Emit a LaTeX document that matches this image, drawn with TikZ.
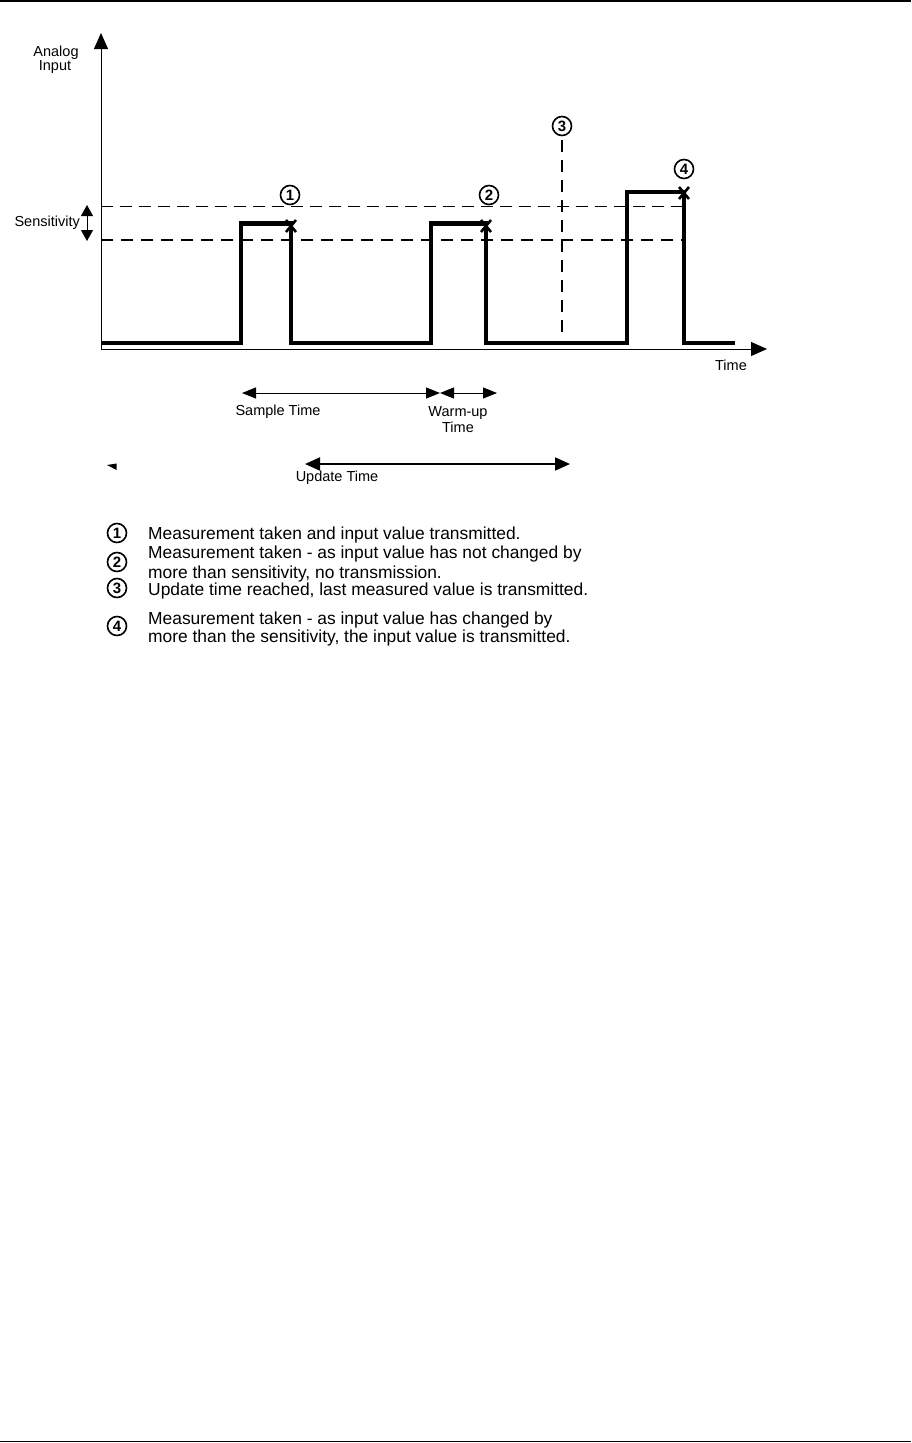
\documentclass[tikz,border=0pt]{standalone}
\usepackage{fontspec}
\setmainfont{Liberation Sans}
\usetikzlibrary{arrows.meta}
\begin{document}
\begin{tikzpicture}[x=1pt,y=-1pt,
  lbl/.style={inner sep=0pt,font=\fontsize{14.5}{12}\selectfont},
  leg/.style={inner sep=0pt,anchor=base west,font=\fontsize{17.4}{18.5}\selectfont},
  num/.style={circle,draw,line width=1.6pt,minimum size=19pt,inner sep=0pt,font=\fontsize{15}{15}\selectfont\bfseries},
  sig/.style={line width=4.2pt,line join=miter},
  axis/.style={line width=1pt,-{Triangle[length=16pt,width=14pt]}},
  dimarr/.style={line width=1pt,{Triangle[length=14pt,width=11pt]}-{Triangle[length=14pt,width=11pt]}},
  xmark/.style={line width=2.6pt},
  frame/.style={line width=1.6pt}]
\useasboundingbox (0,0) rectangle (911,1443);
% page rules
\draw[frame] (0,1) -- (911,1);
\draw[frame] (0,1441.5) -- (911,1441.5);
% axes
\coordinate (O) at (101,349);
\coordinate (ytop) at (101,33);
\coordinate (xend) at (767,349);
\draw[axis] (O) -- (ytop);
\draw[axis] (O) -- (xend);
\node[lbl] (analog) at (56,53) {Analog};
\node[lbl] (input) at (55,67) {Input};
\node[lbl] (time) at (731,365) {Time};
% sensitivity band
\draw[line width=1pt,dash pattern=on 12pt off 7pt] (101,206.5) -- (684,206.5);
\draw[line width=2pt,dash pattern=on 12pt off 8pt] (101,240) -- (684,240);
\coordinate (s1) at (87,205);
\coordinate (s2) at (87,241);
\draw[line width=1pt,{Triangle[length=11pt,width=12pt]}-{Triangle[length=11pt,width=12pt]}] (s1) -- (s2);
\node[lbl,anchor=east] (sens) at (80,223) {Sensitivity};
% update time marker
\draw[line width=1.5pt,dash pattern=on 12pt off 8pt] (562,140) -- (562,334);
% signal
\draw[sig] (101,343) -- (241,343) -- (241,223.5) -- (291,223.5) -- (291,343) -- (431,343)
  -- (431,223.5) -- (486,223.5) -- (486,343) -- (627,343) -- (627,192) -- (684,192)
  -- (684,343) -- (735,343);
% X marks
\foreach \cx/\cy in {291/226, 486/226, 684/193}{
  \draw[xmark] (\cx-5,\cy-6) -- (\cx+5,\cy+6);
  \draw[xmark] (\cx+5,\cy-6) -- (\cx-5,\cy+6);
}
% circled numbers
\node[num] (n1) at (290,195) {1};
\node[num] (n2) at (489,195) {2};
\node[num] (n3) at (562,126) {3};
\node[num] (n4) at (684,169) {4};
% time spans
\coordinate (sa) at (242,393);
\coordinate (sb) at (440,393);
\coordinate (wb) at (497,393);
\draw[dimarr] (sa) -- (sb);
\draw[dimarr] (sb) -- (wb);
\node[lbl] (sample) at (278,412) {Sample Time};
\node[lbl] (warm) at (458,413) {Warm-up};
\node[lbl] (wtime) at (458,427) {Time};
\coordinate (ua) at (305,464);
\coordinate (ub) at (570,464);
\draw[line width=2pt,{Triangle[length=15pt,width=13pt]}-{Triangle[length=15pt,width=13pt]}] (ua) -- (ub);
\node[lbl] (update) at (337,478) {Update Time};
\fill (107,465) -- (116.5,463.5) -- (116.5,470) -- cycle;
% legend
\node[num] (l1) at (117,533) {1};
\node[num] (l2) at (117,562) {2};
\node[num] (l3) at (117,588) {3};
\node[num] (l4) at (117,626) {4};
\node[leg] (t1) at (148,539) {Measurement taken and input value transmitted.};
\node[leg] (t2a) at (148,558) {Measurement taken - as input value has not changed by};
\node[leg] (t2b) at (148,578) {more than sensitivity, no transmission.};
\node[leg] (t3) at (148,595) {Update time reached, last measured value is transmitted.};
\node[leg] (t4a) at (148,624) {Measurement taken - as input value has changed by};
\node[leg] (t4b) at (148,642) {more than the sensitivity, the input value is transmitted.};
\end{tikzpicture}
\end{document}
